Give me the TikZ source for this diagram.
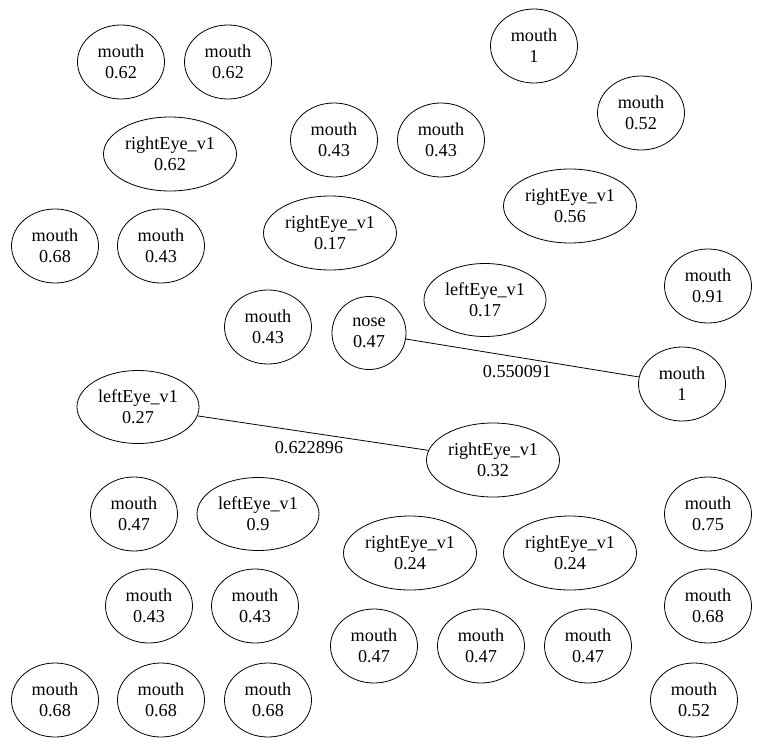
\documentclass[tikz,border=0pt]{standalone}
\usepackage{fontspec}
\setmainfont{Liberation Serif}
\usetikzlibrary{shapes.geometric}
\tikzset{
  base/.style={draw, ellipse, inner sep=0pt, align=center, line width=0.8pt,
    font=\fontsize{18.2}{21}\selectfont},
  mouthnode/.style={base, minimum width=87pt, minimum height=74pt},
  reye/.style={base, minimum width=133pt, minimum height=74pt},
  leye/.style={base, minimum width=122pt, minimum height=73pt},
  nosenode/.style={base, minimum width=74pt, minimum height=73pt},
  elabel/.style={font=\fontsize{18.2}{21}\selectfont, inner sep=0pt},
  link/.style={line width=0.8pt}
}
\begin{document}
\begin{tikzpicture}[x=1pt,y=-1pt]
\useasboundingbox (0,0) rectangle (762,746);
% top area
\node[mouthnode] (m1) at (121,62) {mouth\\0.62};
\node[mouthnode] (m2) at (228,62) {mouth\\0.62};
\node[mouthnode] (m3) at (534,46) {mouth\\1};
\node[mouthnode] (m4) at (641,113) {mouth\\0.52};
\node[reye] (r1) at (170,154) {rightEye\_v1\\0.62};
\node[mouthnode] (m5) at (334,140) {mouth\\0.43};
\node[mouthnode] (m6) at (441,140) {mouth\\0.43};
\node[reye] (r2) at (570,206) {rightEye\_v1\\0.56};
\node[mouthnode] (m7) at (55,246) {mouth\\0.68};
\node[mouthnode] (m8) at (161,246) {mouth\\0.43};
\node[reye] (r3) at (330,233) {rightEye\_v1\\0.17};
\node[mouthnode] (m9) at (708,286) {mouth\\0.91};
\node[leye] (l1) at (485,300) {leftEye\_v1\\0.17};
\node[mouthnode] (m10) at (268,327) {mouth\\0.43};
\node[nosenode] (n1) at (369,333) {nose\\0.47};
\node[mouthnode] (m11) at (682,384) {mouth\\1};
\node[leye] (l2) at (138,407) {leftEye\_v1\\0.27};
\node[reye] (r4) at (493,460) {rightEye\_v1\\0.32};
% lower area
\node[mouthnode] (m12) at (134,514) {mouth\\0.47};
\node[leye] (l3) at (258,514) {leftEye\_v1\\0.9};
\node[mouthnode] (m13) at (708,514) {mouth\\0.75};
\node[reye] (r5) at (410,553) {rightEye\_v1\\0.24};
\node[reye] (r6) at (570,553) {rightEye\_v1\\0.24};
\node[mouthnode] (m14) at (149,606) {mouth\\0.43};
\node[mouthnode] (m15) at (255,606) {mouth\\0.43};
\node[mouthnode] (m16) at (708,606) {mouth\\0.68};
\node[mouthnode] (m17) at (374,646) {mouth\\0.47};
\node[mouthnode] (m18) at (481,646) {mouth\\0.47};
\node[mouthnode] (m19) at (588,646) {mouth\\0.47};
\node[mouthnode] (m20) at (55,700) {mouth\\0.68};
\node[mouthnode] (m21) at (161,700) {mouth\\0.68};
\node[mouthnode] (m22) at (268,700) {mouth\\0.68};
\node[mouthnode] (m23) at (694,700) {mouth\\0.52};
% edges
\draw[link] (n1) -- (m11);
\node[elabel] (lab1) at (517,372) {0.550091};
\draw[link] (l2) -- (r4);
\node[elabel] (lab2) at (309,448) {0.622896};
\end{tikzpicture}
\end{document}
